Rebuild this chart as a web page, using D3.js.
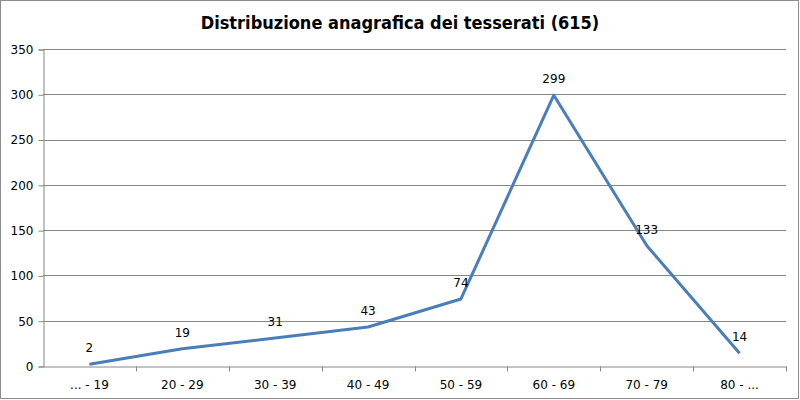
<!DOCTYPE html>
<html>
<head>
<meta charset="utf-8">
<script src="https://cdn.jsdelivr.net/npm/d3@7"></script>
<style>
  html, body { margin: 0; padding: 0; background: #fff; }
  svg { display: block; }
</style>
</head>
<body>
<div id="chart"></div>
<script>
var categories = ["... - 19", "20 - 29", "30 - 39", "40 - 49", "50 - 59", "60 - 69", "70 - 79", "80 - ..."];
var counts = [2, 19, 31, 43, 74, 299, 133, 14];
var yTicks = [0, 50, 100, 150, 200, 250, 300, 350];
var title = "Distribuzione anagrafica dei tesserati (615)";

var W = 800, H = 400;
var m = { top: 49, right: 14, bottom: 34, left: 43 };

var svg = d3.select("#chart").append("svg")
  .attr("width", W).attr("height", H);

svg.append("rect")
  .attr("x", 0.5).attr("y", 0.5)
  .attr("width", W - 2).attr("height", H - 2)
  .attr("fill", "#fff").attr("stroke", "#8c8c8c");

var x = d3.scaleBand().domain(categories).range([m.left, W - m.right]);
var y = d3.scaleLinear().domain([0, 350]).range([H - m.bottom, m.top]);

// gridlines
svg.append("g").selectAll("line")
  .data(yTicks.slice(1))
  .enter().append("line")
  .attr("x1", m.left).attr("x2", W - m.right)
  .attr("y1", function(d) { return Math.round(y(d)) + 0.5; })
  .attr("y2", function(d) { return Math.round(y(d)) + 0.5; })
  .attr("stroke", "#868686");

var yAxis = svg.append("g")
  .attr("transform", "translate(" + (m.left + 0.5) + ",0.5)")
  .call(d3.axisLeft(y).tickValues(yTicks).tickSize(5).tickPadding(5));

var xAxis = svg.append("g")
  .attr("transform", "translate(0," + (Math.round(y(0)) + 0.5) + ")")
  .call(d3.axisBottom(x).tickSize(0).tickPadding(14));

// category boundary ticks
xAxis.selectAll(".bound")
  .data(categories)
  .enter().append("line")
  .attr("class", "bound")
  .attr("x1", function(d) { return Math.round(x(d) + x.bandwidth()) + 0.5; })
  .attr("x2", function(d) { return Math.round(x(d) + x.bandwidth()) + 0.5; })
  .attr("y1", 0).attr("y2", 5)
  .attr("stroke", "#868686");

[yAxis, xAxis].forEach(function(a) {
  a.selectAll(".domain, .tick line").attr("stroke", "#868686");
  a.selectAll("text")
    .attr("fill", "#000")
    .style("font-family", "Verdana, 'DejaVu Sans', sans-serif")
    .style("font-size", "12px");
});

var line = d3.line()
  .x(function(d, i) { return x(categories[i]) + x.bandwidth() / 2; })
  .y(function(d) { return y(d); });

svg.append("path")
  .datum(counts)
  .attr("d", line)
  .attr("fill", "none")
  .attr("stroke", "#4a7ebb")
  .attr("stroke-width", 3)
  .attr("stroke-linejoin", "round");

svg.append("g").selectAll("text")
  .data(counts)
  .enter().append("text")
  .attr("x", function(d, i) { return x(categories[i]) + x.bandwidth() / 2; })
  .attr("y", function(d) { return y(d) - 12; })
  .attr("text-anchor", "middle")
  .style("font-family", "Verdana, 'DejaVu Sans', sans-serif")
  .style("font-size", "12px")
  .text(function(d) { return d; });

svg.append("text")
  .attr("x", W / 2)
  .attr("y", 29)
  .attr("text-anchor", "middle")
  .style("font-family", "'DejaVu Sans Condensed', 'DejaVu Sans', sans-serif")
  .style("font-weight", "bold")
  .style("font-size", "18px")
  .text(title);
</script>
</body>
</html>
